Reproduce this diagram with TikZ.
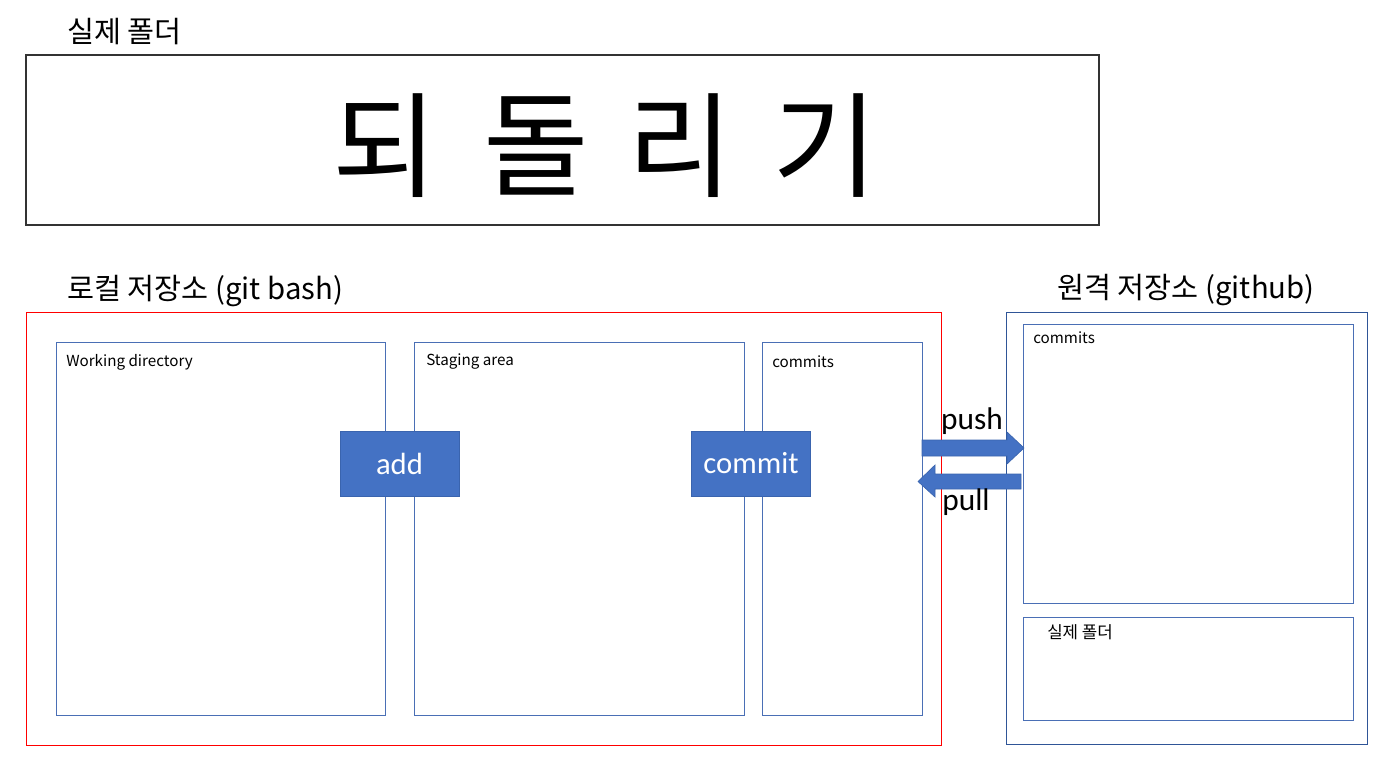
\documentclass[tikz,border=0pt]{standalone}
\usepackage{fontspec}
\setmainfont{Noto Sans CJK KR}
\newfontfamily\krfont{Noto Sans CJK KR}
\newfontfamily\calfont{Carlito}
\usetikzlibrary{fit}
\definecolor{boxblue}{HTML}{2F5597}
\definecolor{innerblue}{HTML}{4A6FB5}
\definecolor{fillblue}{HTML}{4472C4}
\definecolor{arrowedge}{HTML}{3A64AE}
\tikzset{
  frame/.style={draw, inner sep=0pt, line width=0.8pt},
  panel/.style={draw=innerblue, inner sep=0pt, line width=0.6pt},
  small/.style={font=\krfont\fontsize{11.4pt}{13pt}\selectfont, anchor=west, inner sep=0pt},
  big/.style={font=\krfont\fontsize{22pt}{25pt}\selectfont, inner sep=0pt},
  huge/.style={font=\krfont\fontsize{86pt}{90pt}\selectfont, inner sep=0pt},
  action/.style={fill=fillblue, draw=arrowedge, line width=0.5pt, text=white,
    minimum width=89.25pt, minimum height=48.75pt, inner sep=0pt,
    font=\calfont\fontsize{23pt}{26pt}\selectfont},
  arrowbody/.style={fill=fillblue, draw=arrowedge, line width=0.5pt},
  armlabel/.style={font=\calfont\fontsize{23.5pt}{26pt}\selectfont, inner sep=0pt}
}
\begin{document}
\begin{tikzpicture}[x=0.75pt,y=-0.75pt]
\useasboundingbox (0,0) rectangle (1382,759);
% top frame
\node[big, anchor=west] (toplabel) at (67,32) {실제 폴더};
\node[frame, draw=black!80, fit={(26,55)(1099,225)}] (topbox) {};
\node[huge] (u1) at (385,146) {되};
\node[huge] (u2) at (536,146) {돌};
\node[huge] (u3) at (680,146) {리};
\node[huge] (u4) at (825,146) {기};
% local
\node[big, anchor=west] (loclabel) at (67,291) {로컬 저장소 (git bash)};
\node[frame, draw=red, line width=0.6pt, fit={(26,312)(941,745)}] (local) {};
\node[panel, fit={(56,342)(385,715)}] (work) {};
\node[panel, fit={(414,342)(744,715)}] (stage) {};
\node[panel, fit={(762,342)(922,715)}] (lcommits) {};
\node[small] (workl) at (66,362) {Working directory};
\node[small] (stagel) at (426,362) {Staging area};
\node[small] (lcomml) at (772,362) {commits};
\node[action] (add) at (399.5,463.5) {add};
\node[action] (commit) at (751,463.5) {commit};
% remote
\node[big] (remlabel) at (1186,290) {원격 저장소 (github)};
\node[frame, draw=boxblue, line width=0.6pt, fit={(1006,312)(1367,744)}] (remote) {};
\node[panel, fit={(1023,324)(1353,603)}] (rcommits) {};
\node[panel, fit={(1023,617)(1353,720)}] (rfolder) {};
\node[small] (rcomml) at (1033,338) {commits};
\node[small, font=\krfont\fontsize{12.6pt}{14pt}\selectfont] (rfoldl) at (1047,632) {실제 폴더};
% push / pull arrows
\draw[arrowbody] (922,440) -- (1007,440) -- (1007,432) -- (1024,448) -- (1007,464) -- (1007,456) -- (922,456) -- cycle;
\draw[arrowbody] (1021,474) -- (935,474) -- (935,465) -- (918,481.5) -- (935,497) -- (935,489) -- (1021,489) -- cycle;
\node[armlabel] (push) at (972,421) {push};
\node[armlabel] (pull) at (966,502) {pull};
\end{tikzpicture}
\end{document}
